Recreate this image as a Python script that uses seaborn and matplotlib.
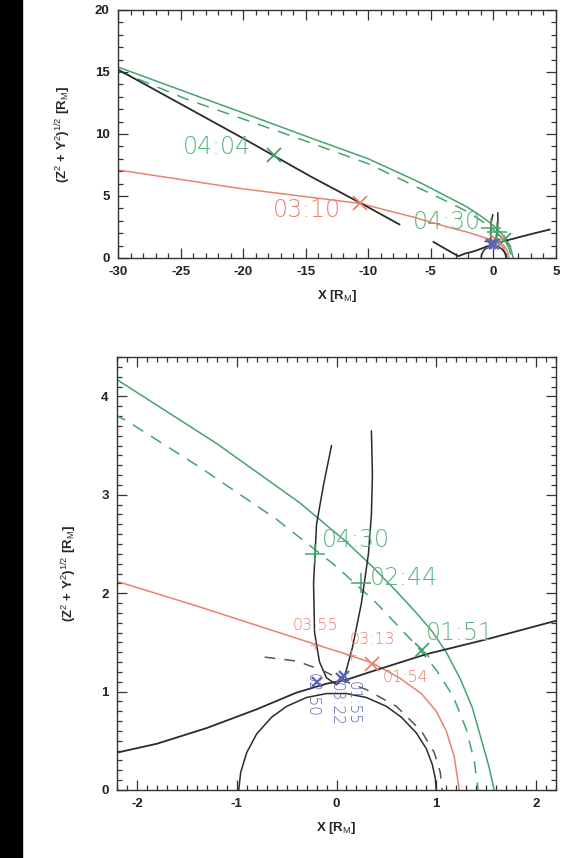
import numpy as np
import matplotlib
matplotlib.use('Agg')
import matplotlib.pyplot as plt
import seaborn as sns
from matplotlib.patches import Rectangle
from matplotlib.ticker import MultipleLocator

sns.set_style('ticks')
plt.rcParams['font.family'] = ['Liberation Sans', 'DejaVu Sans']
plt.rcParams['mathtext.fontset'] = 'custom'
plt.rcParams['mathtext.rm'] = 'Liberation Sans'
plt.rcParams['mathtext.it'] = 'Liberation Sans'
plt.rcParams['axes.unicode_minus'] = False

# curves (x, y in R_M)
green_x = [-30, -20, -14.65, -10, -5.9, -3.6, -2.2, -1.2, -0.37, 0.1, 0.36, 0.6, 0.8, 0.96, 1.1, 1.24, 1.36, 1.45, 1.53, 1.58]
green_y = [15.4, 11.7, 9.7, 8.0, 6.1, 4.9, 4.17, 3.52, 2.92, 2.52, 2.27, 2.02, 1.8, 1.61, 1.4, 1.13, 0.84, 0.52, 0.23, 0.0]

green_dash_x = [-30, -24.5, -16.3, -10, -6.9, -4.0, -2.1, -1.37, -0.6, 0.0, 0.4, 0.8, 1.0, 1.17, 1.3, 1.38, 1.42]
green_dash_y = [15.1, 12.8, 9.9, 7.6, 6.1, 4.7, 3.75, 3.28, 2.75, 2.27, 1.9, 1.47, 1.22, 0.95, 0.62, 0.3, 0.0]

red_x = [-30, -20.2, -14.65, -10.65, -6.4, -3.5, -2.2, -1.37, -0.15, 0.1, 0.36, 0.63, 0.85, 1.0, 1.1, 1.18, 1.23]
red_y = [7.1, 5.6, 4.9, 4.4, 3.3, 2.45, 2.12, 1.86, 1.46, 1.38, 1.29, 1.14, 0.98, 0.8, 0.6, 0.34, 0.0]

black_long_x = [-30, -20, -14.65, -10.65, -7.5]
black_long_y = [15.2, 9.65, 6.6, 4.45, 2.7]

black_curve_x = [-4.8, -3.6, -2.8, -2.2, -1.8, -1.3, -0.8, -0.4, -0.1, 0.1, 0.4, 0.9, 1.5, 2.2, 3.3, 4.5]
black_curve_y = [1.3, 0.6, 0.15, 0.38, 0.47, 0.63, 0.82, 0.99, 1.08, 1.12, 1.22, 1.38, 1.53, 1.72, 2.0, 2.3]

u_x = [-0.05, -0.13, -0.2, -0.23, -0.22, -0.17, -0.1, 0.0, 0.08, 0.16, 0.25, 0.32, 0.35, 0.36, 0.35]
u_y = [3.5, 3.1, 2.7, 2.1, 1.6, 1.3, 1.14, 1.07, 1.15, 1.45, 1.9, 2.4, 2.8, 3.2, 3.65]

black_dash_x = [-0.72, -0.4, -0.15, 0.05, 0.3, 0.6, 0.85, 0.98, 1.04, 1.06]
black_dash_y = [1.35, 1.31, 1.22, 1.12, 1.02, 0.85, 0.6, 0.38, 0.18, 0.0]

planet_x = [-0.98, -0.96, -0.9, -0.8, -0.65, -0.5, -0.3, -0.1, 0.1, 0.3, 0.5, 0.65, 0.8, 0.9, 0.96, 0.99, 1.0]
planet_y = [0.0, 0.18, 0.38, 0.57, 0.74, 0.85, 0.94, 0.98, 0.98, 0.94, 0.85, 0.74, 0.58, 0.42, 0.26, 0.12, 0.0]

# markers
green_x_mk = [(-17.5, 8.3), (0.86, 1.42)]
green_plus_mk = [(-0.22, 2.4), (0.25, 2.1)]
red_x_mk = [(-10.65, 4.4), (0.36, 1.28)]
red_plus_mk = [(-0.22, 1.47), (0.15, 1.37)]
blue_mk = [(-0.2, 1.1), (0.05, 1.14), (0.08, 1.16)]

# labels (text, x, y)
top_labels = [('04:04', -24.8, 8.95, 'g'), ('03:10', -17.6, 3.9, 'r'), ('04:30', -6.4, 2.9, 'g')]
bot_big = [('04:30', -0.15, 2.54), ('02:44', 0.33, 2.15), ('01:51', 0.9, 1.6)]
bot_red = [('03:55', -0.44, 1.67), ('03:13', 0.13, 1.53), ('01:54', 0.46, 1.14)]
bot_blue = [('02:50', -0.24, 0.97), ('03:22', 0.0, 0.87), ('01:55', 0.17, 0.88)]

GREEN = '#45a46c'
GREEN_T = '#5cb47e'
RED = '#e8836f'
BLUE = '#5a66b8'
BLACK = '#2b2b2b'

fig = plt.figure(figsize=(5.62, 8.58), dpi=100)
fig.patches.append(Rectangle((0, 0), 22 / 562, 1, transform=fig.transFigure, color='black', zorder=-1))

ax1 = fig.add_axes([118 / 562, 1 - 258 / 858, 438 / 562, 248 / 858])
ax2 = fig.add_axes([117 / 562, 1 - 790 / 858, 439 / 562, 433 / 858])


def draw_curves(ax, lw=1.1):
    sns.lineplot(x=green_x, y=green_y, ax=ax, sort=False, estimator=None, color=GREEN, lw=lw)
    sns.lineplot(x=green_dash_x, y=green_dash_y, ax=ax, sort=False, estimator=None, color=GREEN, lw=lw,
                 linestyle=(0, (8, 6)))
    sns.lineplot(x=red_x, y=red_y, ax=ax, sort=False, estimator=None, color=RED, lw=lw)
    sns.lineplot(x=black_long_x, y=black_long_y, ax=ax, sort=False, estimator=None, color=BLACK, lw=lw + 0.2)
    sns.lineplot(x=black_curve_x, y=black_curve_y, ax=ax, sort=False, estimator=None, color=BLACK, lw=lw + 0.2)
    sns.lineplot(x=u_x, y=u_y, ax=ax, sort=False, estimator=None, color=BLACK, lw=lw)
    sns.lineplot(x=black_dash_x, y=black_dash_y, ax=ax, sort=False, estimator=None, color='#555555', lw=lw,
                 linestyle=(0, (7, 6)))
    sns.lineplot(x=planet_x, y=planet_y, ax=ax, sort=False, estimator=None, color=BLACK, lw=lw)
    for (mx, my) in green_x_mk:
        ax.plot(mx, my, marker='x', ms=10, mew=1.3, color=GREEN, clip_on=True)
    for (mx, my) in green_plus_mk:
        ax.plot(mx, my, marker='+', ms=14, mew=1.1, color=GREEN, clip_on=True)
    for (mx, my) in red_x_mk:
        ax.plot(mx, my, marker='x', ms=10, mew=1.3, color=RED, clip_on=True)
    for (mx, my) in red_plus_mk:
        ax.plot(mx, my, marker='+', ms=7, mew=1.0, color=RED, alpha=0.7, clip_on=True)
    for (mx, my) in blue_mk:
        ax.plot(mx, my, marker='x', ms=7, mew=1.6, color=BLUE, clip_on=True)


draw_curves(ax1)
draw_curves(ax2)

for t, x, y, c in top_labels:
    ax1.text(x, y, t, color=GREEN_T if c == 'g' else RED, fontsize=17, ha='left', va='center',
             family='DejaVu Sans', fontweight='light')
for t, x, y in bot_big:
    ax2.text(x, y, t, color=GREEN_T, fontsize=17, ha='left', va='center', family='DejaVu Sans', fontweight='light')
for t, x, y in bot_red:
    ax2.text(x, y, t, color=RED, fontsize=11.5, ha='left', va='center', family='DejaVu Sans', fontweight='light')
for t, x, y in bot_blue:
    ax2.text(x, y, t, color=BLUE, fontsize=11, ha='center', va='center', rotation=270,
             family='DejaVu Sans', fontweight='light')

ylab = '(Z$^2$ + Y$^2$)$^{1/2}$ [R$_M$]'
xlab = 'X [R$_M$]'

ax1.set_xlim(-30, 5)
ax1.set_ylim(0, 20)
ax1.set_xticks([-30, -25, -20, -15, -10, -5, 0, 5])
ax1.set_yticks([0, 5, 10, 15, 20])
ax1.xaxis.set_minor_locator(MultipleLocator(1))
ax1.yaxis.set_minor_locator(MultipleLocator(1))

ax2.set_xlim(-2.2, 2.2)
ax2.set_ylim(0, 4.4)
ax2.set_xticks([-2, -1, 0, 1, 2])
ax2.set_yticks([0, 1, 2, 3, 4])
ax2.xaxis.set_minor_locator(MultipleLocator(0.1))
ax2.yaxis.set_minor_locator(MultipleLocator(0.1))

for ax in (ax1, ax2):
    ax.set_xlabel(xlab, fontsize=9.5, labelpad=7, fontweight='bold')
    ax.set_ylabel(ylab, fontsize=9.5, labelpad=16, fontweight='bold')
    ax.tick_params(which='both', direction='in', top=True, right=True, colors='#333333',
                   labelsize=9.5, width=0.9)
    ax.tick_params(which='major', length=7, pad=6)
    ax.tick_params(which='minor', length=3.5)
    for lab in ax.get_xticklabels() + ax.get_yticklabels():
        lab.set_fontweight('bold')
        lab.set_color('#222222')
    for s in ax.spines.values():
        s.set_color('#333333')
        s.set_linewidth(1.0)

fig.savefig('out.png', dpi=100)
